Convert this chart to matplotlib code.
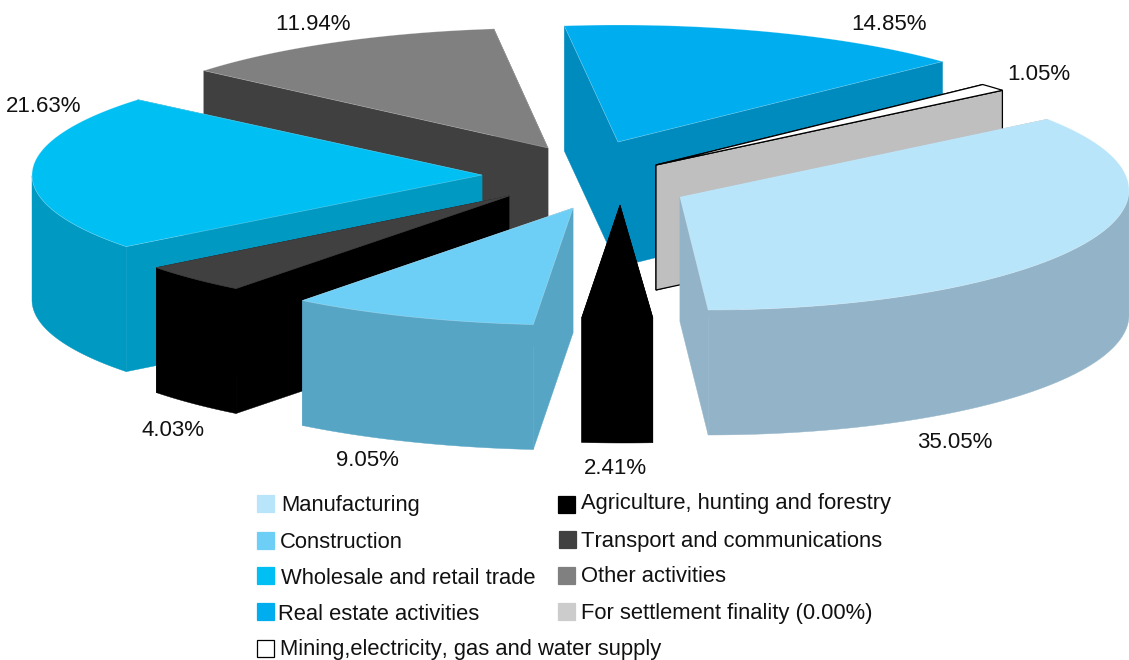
import numpy as np
import matplotlib
matplotlib.use("Agg")
import matplotlib.pyplot as plt
from matplotlib.patches import Polygon, Rectangle

plt.rcParams['font.family'] = ['Liberation Sans', 'DejaVu Sans']
plt.rcParams['text.kerning_factor'] = 6

# slices in clockwise order
sectors = ["Manufacturing", "Agriculture", "Construction", "Transport",
           "Wholesale", "Other", "Real estate", "Mining"]
shares = [35.05, 2.41, 9.05, 4.03, 21.63, 11.94, 14.85, 1.05]

top_colors = ["#B8E5FA", "#000000", "#6DCFF6", "#404040", "#00BFF3", "#808080", "#00AEEF", "#FFFFFF"]
side_colors = ["#93B4C8", "#000000", "#57A5C5", "#000000", "#0099C2", "#404040", "#008BBF", "#BFBFBF"]

legend_names = ["Manufacturing", "Construction", "Wholesale and retail trade", "Real estate activities",
                "Mining,electricity, gas and water supply", "Agriculture, hunting and forestry",
                "Transport and communications", "Other activities", "For settlement finality (0.00%)"]
legend_colors = ["#B8E5FA", "#6DCFF6", "#00BFF3", "#00AEEF", "#FFFFFF", "#000000", "#404040", "#808080", "#CCCCCC"]

# pie layout in pixels
center_x, center_y = 600, 170
rx, ry = 450, 117
depth = 125
start_angle = 39.7

# how far each slice is pulled away from the centre
explode_x = [80, 20, -27, -91, -118, -52, 18, 56]
explode_y = [27, 35, 38, 26, 5, -22, -28, -5]
# small per slice corrections to the rim, manufacturing is drawn a bit off its tip
arc_dx = [28, 4, 0, 0, 0, 0, 0, 0]
arc_dy = [-7, 0, 0, 0, 0, 0, 0, 0]
arc_turn = [-3.5, 0, 0, 0, 0, 0, 0, 0]
arc_rx = [421, 470, 442, 446, rx, rx, 447, rx]
arc_ry = [120, 113, ry, ry, ry, 120, ry, ry]

label_x = [955, 615, 367, 173, 44, 313, 889, 1039]
label_y = [442, 469, 461, 431, 107, 24, 25, 74]

legend_box_x = [257, 257, 257, 257, 257, 558, 559, 558, 558]
legend_box_y = [495, 532, 567, 603, 640, 496, 531, 567, 603]
legend_text_x = [281, 280, 281, 278, 280, 581, 581, 581, 581]
legend_text_y = [505, 542, 578, 615, 650, 504, 542, 576, 613]

fig = plt.figure(figsize=(11.29, 6.6), dpi=100)
ax = fig.add_axes([0, 0, 1, 1])
ax.set_xlim(0, 1129)
ax.set_ylim(660, 0)
ax.axis("off")


def draw_slice(i, t0, t1):
    tip = np.array([center_x + explode_x[i], center_y + explode_y[i]], dtype=float)
    t = np.radians(np.linspace(t0, t1, 80) + arc_turn[i])
    xs = tip[0] + arc_dx[i] + arc_rx[i] * np.cos(t)
    ys = tip[1] + arc_dy[i] - arc_ry[i] * np.sin(t)

    edge, lw = side_colors[i], 0.3
    top_edge, top_lw = (1, 1, 1, 0.3), 0.5
    if sectors[i] == "Mining":
        edge, lw = "black", 0.9
        top_edge, top_lw = "black", 0.9
    elif sectors[i] == "Agriculture":
        top_edge = "black"
    elif sectors[i] == "Transport":
        top_edge = "#404040"

    # the two cut faces
    for x, y in [(xs[0], ys[0]), (xs[-1], ys[-1])]:
        face = [tip, (x, y), (x, y + depth), (tip[0], tip[1] + depth)]
        ax.add_patch(Polygon(face, closed=True, fc=side_colors[i], ec=edge, lw=lw))

    # outer wall, only the part that faces the viewer
    front = np.sin(t) < 0
    if front.any():
        wall_x = np.r_[xs[front], xs[front][::-1]]
        wall_y = np.r_[ys[front], ys[front][::-1] + depth]
        ax.add_patch(Polygon(np.c_[wall_x, wall_y], closed=True, fc=side_colors[i], ec=side_colors[i], lw=0.3))

    ax.add_patch(Polygon(np.c_[np.r_[tip[0], xs], np.r_[tip[1], ys]], closed=True,
                         fc=top_colors[i], ec=top_edge, lw=top_lw))


# work out the angles first, then paint back to front
ends = start_angle - np.cumsum(np.array(shares) * 3.6)
starts = np.r_[start_angle, ends[:-1]]
for name in ["Other", "Real estate", "Mining", "Wholesale", "Transport",
             "Construction", "Agriculture", "Manufacturing"]:
    i = sectors.index(name)
    draw_slice(i, starts[i], ends[i])

for i, v in enumerate(shares):
    ax.text(label_x[i], label_y[i], f"{v:.2f}%", fontsize=16, color="#111111", ha="center", va="center")

for i, name in enumerate(legend_names):
    ec = "black" if legend_colors[i] == "#FFFFFF" else legend_colors[i]
    ax.add_patch(Rectangle((legend_box_x[i], legend_box_y[i]), 17, 17, fc=legend_colors[i], ec=ec, lw=0.9))
    ax.text(legend_text_x[i], legend_text_y[i], name, fontsize=15.85, color="#111111", ha="left", va="center")

fig.savefig("out.png", dpi=100)
